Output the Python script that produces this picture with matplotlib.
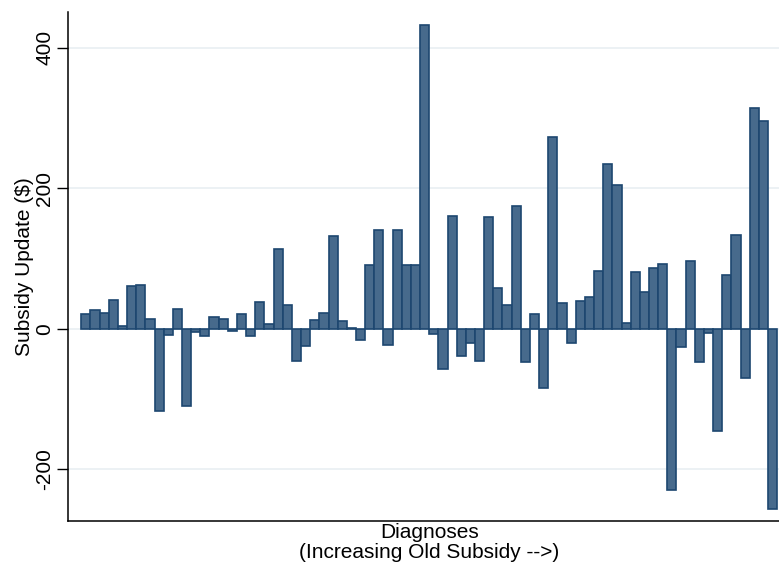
import matplotlib
matplotlib.use("Agg")
import matplotlib.pyplot as plt
import numpy as np

plt.rcParams['font.family'] = ['Liberation Sans', 'DejaVu Sans']

values = [21, 26, 22, 41, 4, 61, 62, 14, -118, -9,
          28, -110, -5, -10, 17, 14, -3, 21, -10, 38,
          7, 114, 34, -46, -25, 12, 22, 132, 11, 1,
          -16, 90, 141, -23, 140, 90, 90, 432, -8, -58,
          161, -39, -20, -46, 159, 58, 34, 175, -47, 21,
          -85, 273, 36, -21, 40, 45, 82, 234, 205, 8,
          80, 52, 87, 92, -230, -26, 97, -48, -6, -146,
          77, 134, -70, 314, 296, -257]
yticks = [-200, 0, 200, 400]
ytick_labels = ["-200", "0", "200", "400"]

W, H = 779, 563
fig = plt.figure(figsize=(W / 100, H / 100), dpi=100)
ax = fig.add_axes([68 / W, 1 - 521 / H, (W - 68) / W, (521 - 12) / H])

x = np.arange(1, len(values) + 1)
ax.bar(x, values, width=1.0, color='#476a8c', edgecolor='#1d4770', linewidth=1.2, zorder=3)

ax.set_xlim(-0.95, 76.7)
ax.set_ylim(-274, 451)
ax.set_yticks(yticks)
ax.set_yticklabels(ytick_labels, rotation=90, va='center', fontsize=15)
ax.set_xticks([])
ax.yaxis.grid(True, color='#eaf0f3', linewidth=1.3, zorder=0)
ax.tick_params(axis='y', direction='out', length=8, width=1, pad=2)
for s in ['top', 'right']:
    ax.spines[s].set_visible(False)
ax.spines['left'].set_linewidth(1.1)
ax.spines['bottom'].set_linewidth(1.1)

ax.set_ylabel('Subsidy Update ($)', fontsize=15, labelpad=1)
ax.set_xlabel('Diagnoses\n(Increasing Old Subsidy -->)', fontsize=15, linespacing=1.08, va='top')
ax.xaxis.set_label_coords(0.5085, -0.003)

fig.savefig('out.png', dpi=100)
